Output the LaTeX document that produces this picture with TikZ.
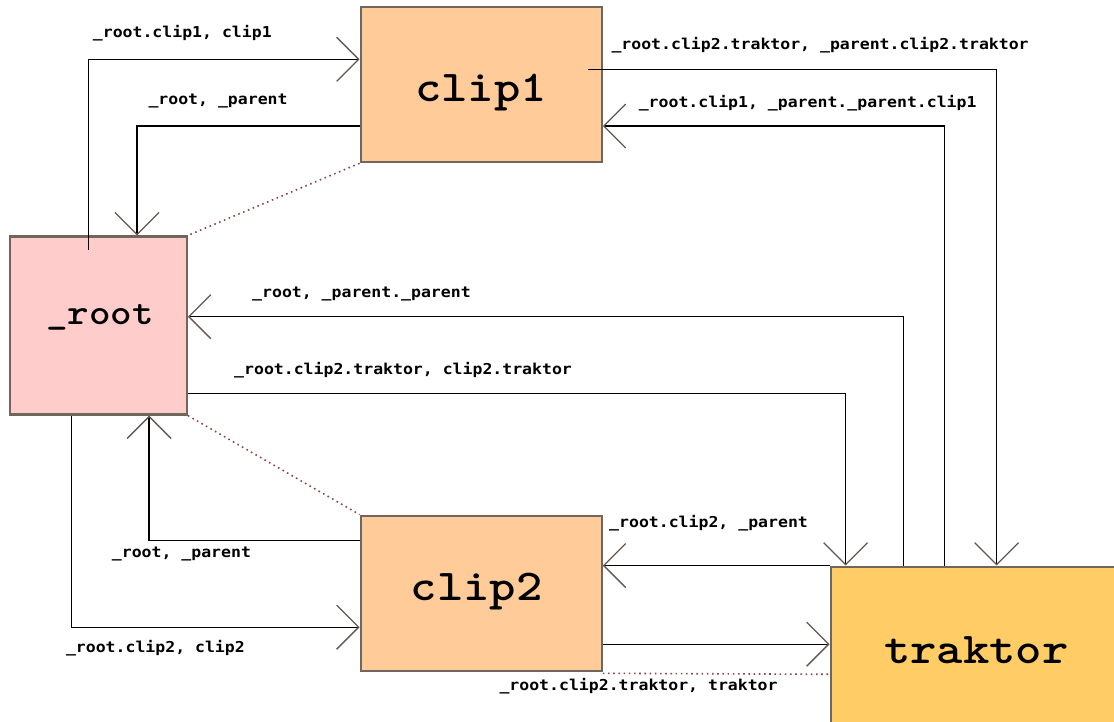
\documentclass[tikz,border=0pt]{standalone}
\usepackage{fontspec}
\usetikzlibrary{arrows.meta,calc}
\newfontfamily\lblfont{DejaVu Sans Mono}[FakeStretch=1.1]
\newfontfamily\boxfont{lmmonolt10-bold.otf}[FakeStretch=1.14]
\definecolor{clipfill}{RGB}{255,204,153}
\definecolor{rootfill}{RGB}{255,204,204}
\definecolor{trakfill}{RGB}{255,204,102}
\definecolor{boxedge}{RGB}{112,102,92}
\definecolor{barb}{RGB}{100,88,78}
\definecolor{dotline}{RGB}{140,72,72}
\begin{document}
\begin{tikzpicture}[x=1pt,y=-1pt,
  box/.style={draw=boxedge, line width=2.2pt, inner sep=0pt},
  boxtext/.style={font=\boxfont\fontsize{44}{44}\selectfont, inner sep=0pt, anchor=base},
  lbl/.style={font=\lblfont\bfseries\fontsize{15}{15}\selectfont, inner sep=0pt, anchor=base west},
  conn/.style={line width=1.3pt,
    -{Straight Barb[length=22pt,width=44pt,color=barb,line width=1.3pt]}},
  link/.style={color=dotline, line width=1.6pt, dash pattern=on 1.6pt off 3.6pt}
]
\useasboundingbox (0,0) rectangle (1114,722);
\clip (0,0) rectangle (1114,722);

% movie clips
\node[box, fill=clipfill, minimum width=241pt, minimum height=155pt] (clip1) at (481.2,84.7) {};
\node[box, fill=rootfill, minimum width=177pt, minimum height=178pt] (root) at (98.3,325.5) {};
\node[box, fill=clipfill, minimum width=241pt, minimum height=155pt] (clip2) at (481.2,593.2) {};
\node[box, fill=trakfill, minimum width=292pt, minimum height=172pt] (traktor) at (976.7,652.7) {};

\node[boxtext] (clip1-t) at (480.9,101.7) {clip1};
\node[boxtext, font=\boxfont\fontsize{36}{36}\selectfont] (root-t) at (100,324) {\_root};
\node[boxtext] (clip2-t) at (476.7,600) {clip2};
\node[boxtext] (traktor-t) at (976.3,663.3) {traktor};

% parent/child links
\draw[link] (clip1.south west) -- (root.north east);
\draw[link] (root.south east) -- (clip2.north west);
\draw[link] ([yshift=-1.5pt]clip2.south east) -- ([yshift=-21.6pt]traktor.west);

% references between clips
\draw[conn] ([xshift=80pt,yshift=-15pt]root.north west) |- ([yshift=25.4pt]clip1.west);
\draw[conn] ([yshift=-41.3pt]clip1.west) -| ([xshift=128.3pt]root.north west);
\draw[conn] ([xshift=-15pt,yshift=15.4pt]clip1.east) -| ([xshift=167pt]traktor.north west);
\draw[conn] ([xshift=115pt]traktor.north west) |- ([yshift=-41.3pt]clip1.east);
\draw[conn] ([xshift=73.6pt]traktor.north west) |- ([yshift=8.8pt]root.east);
\draw[conn] ([yshift=-68pt]root.east) -| ([xshift=16pt]traktor.north west);
\draw[conn] ([xshift=62.7pt]root.south west) |- ([yshift=-34pt]clip2.west);
\draw[conn] ([yshift=52.5pt]clip2.west) -| ([xshift=140.4pt]root.south west);
\draw[conn] (traktor.north west) -- (traktor.north west -| clip2.east);
\coordinate (c2out) at ([yshift=-51pt]clip2.east);
\draw[conn] (c2out) -- (c2out -| traktor.west);

% path labels
\node[lbl] (l1) at (92.7,37.5) {\_root.clip1, clip1};
\node[lbl] (l2) at (148.3,104.5) {\_root, \_parent};
\node[lbl] (l3) at (611.3,50) {\_root.clip2.traktor, \_parent.clip2.traktor};
\node[lbl] (l4) at (638.6,108) {\_root.clip1, \_parent.\_parent.clip1};
\node[lbl] (l5) at (252,297) {\_root, \_parent.\_parent};
\node[lbl] (l6) at (234,374.5) {\_root.clip2.traktor, clip2.traktor};
\node[lbl] (l7) at (65.8,652) {\_root.clip2, clip2};
\node[lbl] (l8) at (111.7,557) {\_root, \_parent};
\node[lbl] (l9) at (609,527) {\_root.clip2, \_parent};
\node[lbl] (l10) at (499.3,690.5) {\_root.clip2.traktor, traktor};
\end{tikzpicture}
\end{document}
